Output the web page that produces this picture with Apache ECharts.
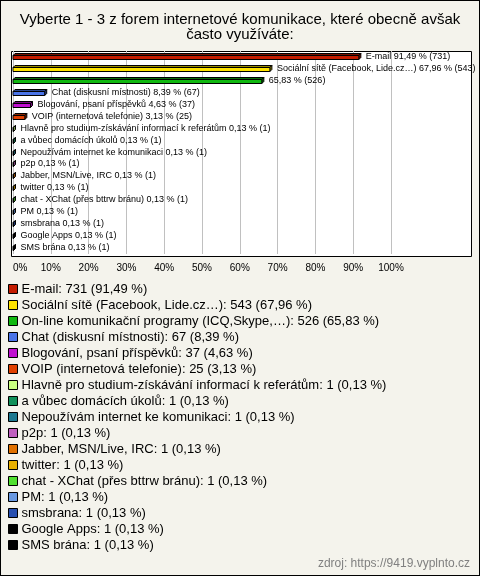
<!DOCTYPE html>
<html><head><meta charset="utf-8">
<script src="https://cdn.jsdelivr.net/npm/echarts@6/dist/echarts.min.js"></script>
<style>html,body{margin:0;padding:0;background:#f4f3ec}#c{width:480px;height:576px;box-sizing:border-box;border:1px solid #000}</style>
</head><body><div id="c"></div>
<script>
const titleText = 'Vyberte 1 - 3 z forem internetové komunikace, které obecně avšak\nčasto využíváte:';
const categories = ['E-mail','Sociální sítě (Facebook, Lide.cz…)','On-line komunikační programy (ICQ,Skype,…)','Chat (diskusní místnosti)','Blogování, psaní příspěvků','VOIP (internetová telefonie)','Hlavně pro studium-získávání informací k referátům','a vůbec domácích úkolů','Nepoužívám internet ke komunikaci','p2p','Jabber, MSN/Live, IRC','twitter','chat - XChat (přes bttrw bránu)','PM','smsbrana','Google Apps','SMS brána'];
const barLabelNames = ['E-mail','Sociální sítě (Facebook, Lide.cz…)','','Chat (diskusní místnosti)','Blogování, psaní příspěvků','VOIP (internetová telefonie)','Hlavně pro studium-získávání informací k referátům','a vůbec domácích úkolů','Nepoužívám internet ke komunikaci','p2p','Jabber, MSN/Live, IRC','twitter','chat - XChat (přes bttrw bránu)','PM','smsbrana','Google Apps','SMS brána'];
const counts = [731,543,526,67,37,25,1,1,1,1,1,1,1,1,1,1,1];
const percents = [91.49,67.96,65.83,8.39,4.63,3.13,0.13,0.13,0.13,0.13,0.13,0.13,0.13,0.13,0.13,0.13,0.13];
const colors = ['#c41c00','#ffe400','#10b810','#4a74e8','#c010d0','#e04000','#c8ff80','#10905a','#1c7890','#c060c0','#e07000','#e8b000','#50e030','#6898e0','#2850b0','#000000','#000000'];
const tickValues = [0,10,20,30,40,50,60,70,80,90,100];
const sourceText = 'zdroj: https://9419.vyplnto.cz';

const FONT = '"Liberation Sans", Arial, sans-serif';
const fmt = v => v.toFixed(2).replace('.', ',');
function darken(hex, f) {
  const n = parseInt(hex.slice(1), 16);
  const r = Math.round(((n >> 16) & 255) * f), g = Math.round(((n >> 8) & 255) * f), b = Math.round((n & 255) * f);
  return 'rgb(' + r + ',' + g + ',' + b + ')';
}

const chart = echarts.init(document.getElementById('c'));

const series = categories.map((name, i) => ({
  type: 'custom',
  name: name,
  itemStyle: { color: colors[i] },
  encode: { x: 0, y: 1 },
  clip: false,
  data: [[percents[i], i]],
  renderItem: function (params, api) {
    const idx = api.value(1);
    const p0 = api.coord([0, idx]);
    const p1 = api.coord([api.value(0), idx]);
    const h = 4, d = 2;
    const x0 = p0[0], x1 = p1[0];
    const y = Math.round(p0[1]) - 1.5;
    const col = colors[i];
    const dark = darken(col, 0.6);
    const label = (barLabelNames[i] ? barLabelNames[i] + ' ' : '') + fmt(percents[i]) + ' % (' + counts[i] + ')';
    return {
      type: 'group',
      children: [
        { type: 'polygon', shape: { points: [[x0, y], [x0 + d, y - d], [x1 + d, y - d], [x1, y]] },
          style: { fill: dark, stroke: '#000', lineWidth: 1 } },
        { type: 'polygon', shape: { points: [[x1, y], [x1 + d, y - d], [x1 + d, y - d + h], [x1, y + h]] },
          style: { fill: dark, stroke: '#000', lineWidth: 1 } },
        { type: 'rect', shape: { x: x0, y: y, width: Math.max(x1 - x0, 0), height: h },
          style: { fill: col, stroke: '#000', lineWidth: 1 } },
        { type: 'text', x: x1 + d + 5, y: y + 1,
          style: { text: label, fill: '#000', font: '9px ' + FONT, verticalAlign: 'middle', align: 'left' } }
      ]
    };
  }
}));

chart.setOption({
  backgroundColor: '#f4f3ec',
  animation: false,
  title: {
    text: titleText, left: 'center', top: 6,
    textStyle: { fontFamily: FONT, fontSize: 15, fontWeight: 'normal', color: '#000', lineHeight: 15 }
  },
  graphic: [
    { type: 'rect', z: -10, shape: { x: 10.5, y: 50.5, width: 460, height: 205 },
      style: { fill: '#fff', stroke: '#000', lineWidth: 1 } },
    { type: 'text', right: 9, top: 557,
      style: { text: sourceText, fill: '#808080', font: '12px ' + FONT } }
  ],
  grid: { left: 12, right: 88, top: 50, bottom: 321, containLabel: false },
  xAxis: {
    type: 'value', min: 0, max: 100, interval: 10,
    axisLine: { show: false }, axisTick: { show: false },
    splitLine: { show: true, lineStyle: { color: '#c0c0c0', width: 1 } },
    axisLabel: {
      margin: 9, fontSize: 10, color: '#000', fontFamily: FONT, alignMinLabel: 'left',
      formatter: v => tickValues.indexOf(v) >= 0 ? v + '%' : ''
    }
  },
  yAxis: {
    type: 'category', data: categories, inverse: true, show: false
  },
  legend: {
    orient: 'vertical', left: 2, top: 275, icon: 'rect',
    itemWidth: 9, itemHeight: 9, itemGap: 0,
    itemStyle: { borderColor: '#000', borderWidth: 1 },
    selectedMode: false,
    textStyle: { fontFamily: FONT, fontSize: 13, color: '#000', lineHeight: 16, padding: [0, 0, 0, -1] },
    formatter: function (name) {
      const i = categories.indexOf(name);
      return name + ': ' + counts[i] + ' (' + fmt(percents[i]) + ' %)';
    },
    data: categories
  },
  series: series
});
</script></body></html>
